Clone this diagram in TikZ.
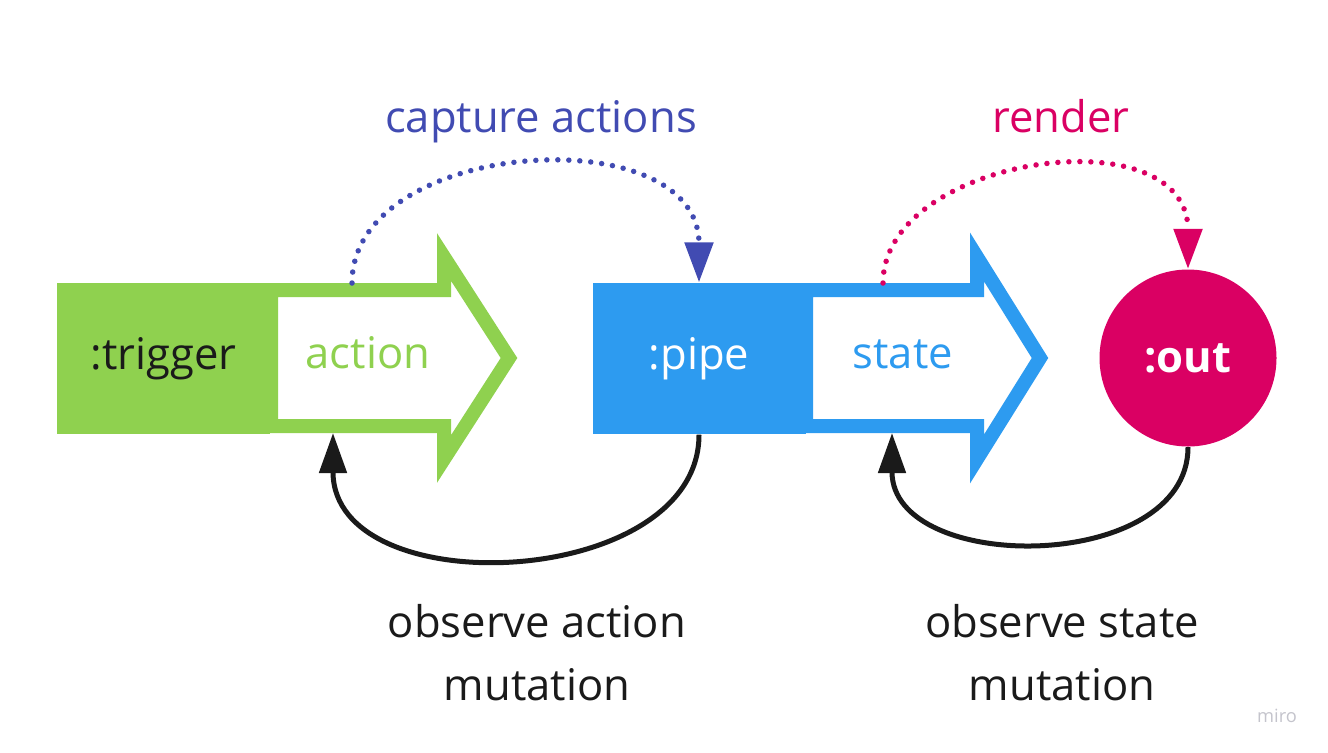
\documentclass[tikz,border=0pt]{standalone}
\usepackage{fontspec}
\setmainfont{Open Sans}
\usepackage{tikz}
\usetikzlibrary{arrows.meta}
\definecolor{GREEN}{HTML}{8FD14F}
\definecolor{BLUE}{HTML}{2D9BF0}
\definecolor{PINK}{HTML}{DA0063}
\definecolor{NAVY}{HTML}{414BB2}
\definecolor{BLACK}{HTML}{1A1A1A}
\definecolor{GREY}{HTML}{C4C4CC}
\tikzset{
  label/.style={font=\fontsize{12.4pt}{17.9pt}\selectfont, inner sep=0pt},
  box/.style={label, minimum width=2.13cm, minimum height=1.51cm, text height=0.22cm, text depth=0cm},
  arrowbox/.style={line width=0.14cm, line join=miter, fill=white},
  dotarrow/.style={line width=0.055cm, line cap=round, dash pattern=on 0pt off 0.11cm, -{Triangle[length=0.4cm, width=0.28cm]}},
  backarrow/.style={BLACK, line width=0.05cm, -{Triangle[length=0.4cm, width=0.27cm]}}
}

\begin{document}
\begin{tikzpicture}
    \useasboundingbox (0,0) rectangle (13.28,7.52);
    %
    \node[box, fill=GREEN, text=BLACK] (trigger) at (1.635,3.935) {:trigger};
    \draw[GREEN, arrowbox] (2.71,4.62) -- (4.44,4.62) -- (4.44,4.95) -- (5.09,3.94) -- (4.44,2.93) -- (4.44,3.26) -- (2.71,3.26) -- cycle;
    \node[label, GREEN, anchor=base west] (action) at (3.05,3.84) {action};
    \coordinate (actTop) at (3.52,4.69);
    \coordinate (actBot) at (3.33,3.19);
    %
    \node[box, fill=BLUE, text=white] (pipe) at (6.99,3.935) {:pipe};
    \draw[BLUE, arrowbox] (8.06,4.62) -- (9.77,4.62) -- (9.77,4.95) -- (10.40,3.94) -- (9.77,2.93) -- (9.77,3.26) -- (8.06,3.26) -- cycle;
    \node[label, BLUE, anchor=base west] (state) at (8.52,3.84) {state};
    \coordinate (stTop) at (8.83,4.69);
    \coordinate (stBot) at (8.92,3.19);
    %
    \node[label, circle, fill=PINK, text=white, minimum size=1.77cm, font=\fontsize{12.4pt}{17.9pt}\selectfont\bfseries] (out) at (11.88,3.94) {:out};
    %
    \node[label, NAVY, anchor=base] (capture) at (5.41,6.20) {capture actions};
    \draw[NAVY, dotarrow] (actTop) .. controls (3.52,6.14) and (6.99,6.36) .. (pipe.north);
    \node[label, PINK, anchor=base] (render) at (10.61,6.20) {render};
    \draw[PINK, dotarrow] (stTop) .. controls (8.83,5.96) and (11.88,6.39) .. (out.north);
    %
    \draw[backarrow] (pipe.south) .. controls (6.99,1.62) and (3.33,1.46) .. (actBot);
    \draw[backarrow] (out.south) .. controls (11.88,1.78) and (8.92,1.77) .. (stBot);
    \node[label, BLACK, align=center, anchor=base] (obsaction) at (5.37,0.52) {observe action\\mutation};
    \node[label, BLACK, align=center, anchor=base] (obsstate) at (10.62,0.52) {observe state\\mutation};
    %
    \node[GREY, font=\fontsize{5.2pt}{6pt}\selectfont, inner sep=0pt] (miro) at (12.77,0.36) {miro};
\end{tikzpicture}
\end{document}
